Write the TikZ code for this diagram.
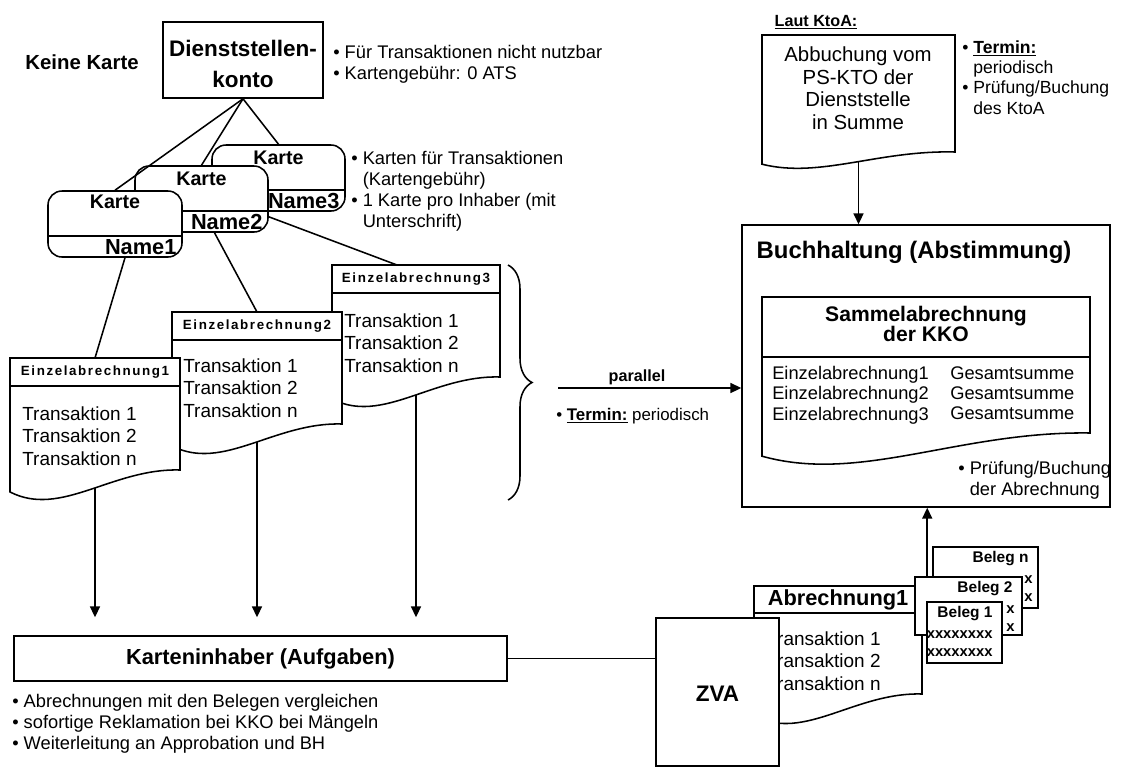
\documentclass[tikz,border=0pt]{standalone}
\usepackage{fontspec}
\setmainfont{Liberation Sans}
\newfontfamily\hdrfont[LetterSpace=12]{Liberation Sans}
\usetikzlibrary{arrows.meta,calc,fit,positioning,decorations.pathreplacing}

\tikzset{
  frame/.style={draw,line width=1.1pt,fill=white,inner sep=0pt},
  card/.style={frame,rounded corners=0.35cm},
  docarea/.style={inner sep=0pt,outer sep=0pt},
  link/.style={line width=1.1pt},
  flow/.style={line width=1.1pt,-{Triangle[length=0.27cm,width=0.25cm]}},
  note/.style={inner sep=0pt,align=left,font=\fontsize{13}{15}\selectfont},
  body/.style={inner sep=0pt,align=left,font=\fontsize{13.5}{16}\selectfont},
  title/.style={inner sep=0pt,align=center,font=\bfseries\fontsize{15.5}{15.5}\selectfont},
  cardname/.style={inner sep=0pt,font=\bfseries\fontsize{15.5}{18}\selectfont},
  dochead/.style={inner sep=0pt,font=\hdrfont\bfseries\fontsize{9.5}{11}\selectfont},
  beleg/.style={inner sep=0pt,font=\bfseries\fontsize{11}{13}\selectfont},
  xrow/.style={inner sep=0pt,align=right,font=\bfseries\fontsize{10.5}{12.8}\selectfont},
}

% Dokument mit welliger Unterkante
\newcommand{\docoutline}[2]{%
  \draw[link,fill=white] (#1.north west) -- (#1.north east)
    -- ($(#1.south east)+(0,-#2)$)
    .. controls ($(#1.south east)!0.4!(#1.south west)+(0,-#2-2)$)
    and ($(#1.south east)!0.7!(#1.south west)+(0,1.67*#2)$)
    .. ($(#1.south west)+(0,0.22*#2)$) -- cycle;}
\newcommand{\bul}{\textbullet\ }
\newcommand{\hang}{\phantom{\textbullet\ }}

\begin{document}
\begin{tikzpicture}[x=0.025cm,y=-0.025cm]
  \useasboundingbox (0,0) rectangle (1128,770);

  % Dienststellenkonto
  \node[title,font=\bfseries\fontsize{14.5}{17}\selectfont] (keine) at (82,62) {Keine Karte};
  \node[frame,fit={(163,22) (323,98)}] (dsk) {};
  \node[title,font=\bfseries\fontsize{16}{22}\selectfont] (dskt) at ($(dsk.center)+(0,4)$) {Dienststellen-\\konto};
  \node[note,anchor=north west] (dsknote) at (333,45) {\bul Für Transaktionen nicht nutzbar\\\bul Kartengebühr: 0 ATS};

  % Karten
  \node[card,fit={(212,145) (345,211)}] (k3) {};
  \draw[link] ($(k3.south west)+(0,-22)$) -- ($(k3.south east)+(0,-22)$);
  \node[cardname,font=\bfseries\fontsize{14}{16}\selectfont] (k3t) at ($(k3.north)+(0,14)$) {Karte};
  \node[cardname,anchor=east] (k3n) at ($(k3.south east)+(-6,-11)$) {Name3};

  \node[card,fit={(135,166) (268,232)}] (k2) {};
  \draw[link] ($(k2.south west)+(0,-22)$) -- ($(k2.south east)+(0,-22)$);
  \node[cardname,font=\bfseries\fontsize{14}{16}\selectfont] (k2t) at ($(k2.north)+(0,14)$) {Karte};
  \node[cardname,anchor=east] (k2n) at ($(k2.south east)+(-6,-11)$) {Name2};

  \node[card,fit={(48,191) (182,257)}] (k1) {};
  \draw[link] ($(k1.south west)+(0,-22)$) -- ($(k1.south east)+(0,-22)$);
  \node[cardname,font=\bfseries\fontsize{14}{16}\selectfont] (k1t) at ($(k1.north)+(0,12)$) {Karte};
  \node[cardname,anchor=east] (k1n) at ($(k1.south east)+(-6,-11)$) {Name1};

  \node[note,anchor=north west] (kartenote) at (351,151) {\bul Karten für Transaktionen\\\hang(Kartengebühr)\\\bul 1 Karte pro Inhaber (mit\\\hang Unterschrift)};

  \draw[link] (dsk.south) -- (k1.north);
  \draw[link] (dsk.south) -- (k2.north);
  \draw[link] (dsk.south) -- (k3.north);

  % Einzelabrechnungen
  \node[docarea,fit={(332,265) (500,395)}] (e3) {};
  \docoutline{e3}{18}
  \draw[link] ($(e3.north west)+(0,28)$) -- ($(e3.north east)+(0,28)$);
  \node[dochead] (e3h) at ($(e3.north)+(0,14)$) {Einzelabrechnung3};
  \node[body,anchor=north west] (e3b) at ($(e3.north west)+(12,48)$) {Transaktion 1\\Transaktion 2\\Transaktion n};

  \node[docarea,fit={(172,312) (342,442)}] (e2) {};
  \docoutline{e2}{18}
  \draw[link] ($(e2.north west)+(0,28)$) -- ($(e2.north east)+(0,28)$);
  \node[dochead] (e2h) at ($(e2.north)+(0,14)$) {Einzelabrechnung2};
  \node[body,anchor=north west] (e2b) at ($(e2.north west)+(11,46)$) {Transaktion 1\\Transaktion 2\\Transaktion n};

  \node[docarea,fit={(10,358) (180,488)}] (e1) {};
  \docoutline{e1}{18}
  \draw[link] ($(e1.north west)+(0,28)$) -- ($(e1.north east)+(0,28)$);
  \node[dochead] (e1h) at ($(e1.north)+(0,14)$) {Einzelabrechnung1};
  \node[body,anchor=north west] (e1b) at ($(e1.north west)+(12,48)$) {Transaktion 1\\Transaktion 2\\Transaktion n};

  \draw[link] ($(k1.south)+(10,0)$) -- (e1.north);
  \draw[link] ($(k2.south)+(13,0)$) -- (e2.north);
  \draw[link] ($(k2.south east)+(0,-16)$) -- ($(e3.north west)+(65,0)$);

  \draw[link,decorate,decoration={brace,amplitude=0.6cm}] (508,265) -- (508,500);

  % Karteninhaber
  \node[frame,fit={(14,636) (507,681)}] (kinh) {};
  \node[title] (kinht) at (kinh.center) {Karteninhaber (Aufgaben)};
  \node[note,anchor=north west] (kinhnote) at (12,694) {\bul Abrechnungen mit den Belegen vergleichen\\\bul sofortige Reklamation bei KKO bei Mängeln\\\bul Weiterleitung an Approbation und BH};
  \draw[flow,shorten >=0.45cm] (e1.south) -- (e1.south |- kinh.north);
  \draw[flow,shorten >=0.45cm] (e2.south) -- (e2.south |- kinh.north);
  \draw[flow,shorten >=0.45cm] (e3.south) -- (e3.south |- kinh.north);

  % Buchhaltung
  \node[frame,fit={(742,225) (1110,507)}] (bh) {};
  \node[title,font=\bfseries\fontsize{17}{20}\selectfont] (bht) at (914,252) {Buchhaltung (Abstimmung)};
  \node[docarea,fit={(762,297) (1090,452)}] (sam) {};
  \docoutline{sam}{19}
  \draw[link] ($(sam.north west)+(0,60)$) -- ($(sam.north east)+(0,60)$);
  \node[title,font=\bfseries\fontsize{15}{14.5}\selectfont] (samt) at ($(sam.north)+(0,27)$) {Sammelabrechnung\\der KKO};
  \node[body,anchor=north west,font=\fontsize{13}{14.5}\selectfont] (saml) at (772,366) {Einzelabrechnung1\\Einzelabrechnung2\\Einzelabrechnung3};
  \node[body,anchor=north west,font=\fontsize{13}{14.5}\selectfont] (samr) at (950,366) {Gesamtsumme\\Gesamtsumme\\Gesamtsumme};
  \node[note,anchor=north west] (samnote) at (958,461) {\bul Prüfung/Buchung\\\hang der Abrechnung};

  \coordinate (pstart) at (558,388);
  \draw[flow] (pstart) -- (pstart -| bh.west);
  \node[title,font=\bfseries\fontsize{11.5}{13}\selectfont] (par) at (637,377) {parallel};
  \node[note,anchor=north west,font=\fontsize{12}{14}\selectfont] (parnote) at (556,408) {\bul \underline{\textbf{Termin:}} periodisch};

  % Kontoauszug
  \node[title,font=\bfseries\fontsize{11.5}{13}\selectfont] (laut) at (816,22) {\underline{Laut KtoA:}};
  \node[docarea,fit={(762,35) (955,162)}] (kto) {};
  \docoutline{kto}{10}
  \node[body,align=center,font=\fontsize{14.5}{16}\selectfont] (ktot) at (858,88) {Abbuchung vom\\PS-KTO der\\Dienststelle\\in Summe};
  \node[note,anchor=north west,font=\fontsize{12.5}{14.5}\selectfont] (ktonote) at (962,40) {\bul \underline{\textbf{Termin:}}\\\hang periodisch\\\bul Prüfung/Buchung\\\hang des KtoA};
  \draw[flow] (kto.south) -- (kto.south |- bh.north);

  % ZVA mit Abrechnung und Belegen
  \node[docarea,fit={(754,586) (922,712)}] (abr) {};
  \docoutline{abr}{18}
  \draw[link] ($(abr.north west)+(0,27)$) -- ($(abr.north east)+(0,27)$);
  \node[title] (abrh) at ($(abr.north)+(0,14)$) {Abrechnung1};
  \node[body,anchor=north west] (abrb) at ($(abr.north west)+(12,45)$) {Transaktion 1\\Transaktion 2\\Transaktion n};

  \node[frame,fit={(656,618) (779,766)}] (zva) {};
  \node[title,font=\bfseries\fontsize{16}{18}\selectfont] (zvat) at ($(zva.center)+(0,2)$) {ZVA};
  \draw[link] (kinh.east) -- (kinh.east -| zva.west);

  \node[frame,fit={(933,547) (1038,608)}] (bn) {};
  \node[beleg,anchor=east] (bnt) at ($(bn.north east)+(-10,12)$) {Beleg n};
  \node[xrow,anchor=north east] (bnx) at ($(bn.north east)+(-6,29)$) {x\\x};
  \node[frame,fit={(915,577) (1022,635)}] (b2) {};
  \node[beleg,anchor=east] (b2t) at ($(b2.north east)+(-10,12)$) {Beleg 2};
  \node[xrow,anchor=north east] (b2x) at ($(b2.north east)+(-8,29)$) {x\\x};
  \node[frame,fit={(927,602) (1002,663)}] (b1) {};
  \node[beleg,anchor=east] (b1t) at ($(b1.north east)+(-10,12)$) {Beleg 1};
  \node[xrow,anchor=north east] (b1x) at ($(b1.north east)+(-10,29)$) {xxxxxxxx\\xxxxxxxx};

  \coordinate (bup) at ($(b2.north west)+(13,0)$);
  \draw[flow] (bup) -- (bup |- bh.south);
\end{tikzpicture}
\end{document}
